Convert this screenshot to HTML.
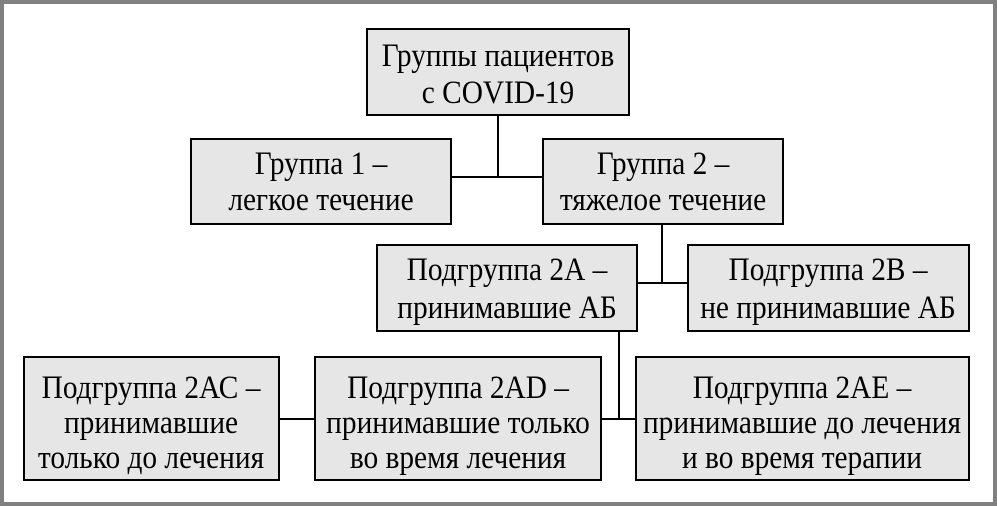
<!DOCTYPE html>
<html><head><meta charset="utf-8"><style>
html,body{margin:0;padding:0;background:#fff}
svg{display:block}
text{font-family:"Liberation Serif",serif;font-size:33px;fill:#000;text-anchor:middle}
</style></head><body>
<svg width="997" height="506" viewBox="0 0 997 506" xmlns="http://www.w3.org/2000/svg">
<rect x="2" y="2" width="993" height="502" fill="#fff" stroke="#808080" stroke-width="4"/>
<g stroke="#000" stroke-width="2" fill="none">
<line x1="498" y1="115" x2="498" y2="177"/>
<line x1="451" y1="177" x2="543" y2="177"/>
<line x1="662" y1="224" x2="662" y2="283"/>
<line x1="637" y1="283" x2="688" y2="283"/>
<line x1="619" y1="331" x2="619" y2="419"/>
<line x1="601" y1="419" x2="636" y2="419"/>
<line x1="279" y1="419" x2="315" y2="419"/>
</g>
<g fill="#e6e6e6" stroke="#000" stroke-width="2">
<rect x="367" y="29" width="262" height="86"/>
<rect x="191" y="139" width="260" height="85"/>
<rect x="543" y="139" width="240" height="85"/>
<rect x="377" y="245" width="260" height="86"/>
<rect x="688" y="245" width="281" height="86"/>
<rect x="24" y="357" width="255" height="123"/>
<rect x="315" y="357" width="286" height="123"/>
<rect x="636" y="357" width="333" height="123"/>
</g>
<text transform="translate(498,66) scale(0.89,1)">Группы пациентов</text>
<text transform="translate(498,103) scale(0.89,1)">с COVID-19</text>
<text transform="translate(321,174) scale(0.89,1)">Группа 1 –</text>
<text transform="translate(321,210) scale(0.89,1)">легкое течение</text>
<text transform="translate(663,174) scale(0.89,1)">Группа 2 –</text>
<text transform="translate(663,210) scale(0.89,1)">тяжелое течение</text>
<text transform="translate(507,280) scale(0.89,1)">Подгруппа 2А –</text>
<text transform="translate(507,318) scale(0.89,1)">принимавшие АБ</text>
<text transform="translate(828,280) scale(0.89,1)">Подгруппа 2В –</text>
<text transform="translate(828,318) scale(0.89,1)">не принимавшие АБ</text>
<text transform="translate(151,398) scale(0.89,1)">Подгруппа 2АС –</text>
<text transform="translate(151,433) scale(0.89,1)">принимавшие</text>
<text transform="translate(151,468) scale(0.89,1)">только до лечения</text>
<text transform="translate(458,398) scale(0.89,1)">Подгруппа 2АD –</text>
<text transform="translate(458,433) scale(0.89,1)">принимавшие только</text>
<text transform="translate(458,468) scale(0.89,1)">во время лечения</text>
<text transform="translate(802,398) scale(0.89,1)">Подгруппа 2АЕ –</text>
<text transform="translate(802,433) scale(0.89,1)">принимавшие до лечения</text>
<text transform="translate(802,468) scale(0.89,1)">и во время терапии</text>
</svg>
</body></html>
